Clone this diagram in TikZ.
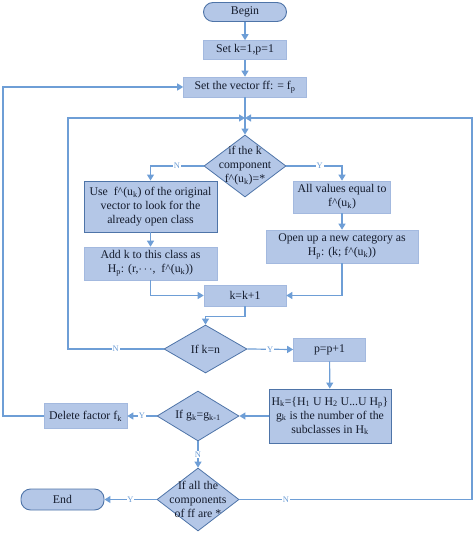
\documentclass[tikz,border=0pt]{standalone}
\usepackage{fontspec}
\setmainfont{Liberation Serif}
\usetikzlibrary{arrows.meta,shapes.geometric}
\definecolor{boxfill}{HTML}{B4C7E7}
\definecolor{boxedge}{HTML}{A3B9DF}
\definecolor{darkedge}{HTML}{4E74A8}
\definecolor{flow}{HTML}{6E9ED6}
\definecolor{ink}{HTML}{141B2C}
\tikzset{
	txt/.style={text=ink, align=center, font=\fontsize{11.8}{14}\selectfont},
	box/.style={txt, draw=boxedge, fill=boxfill, inner sep=0pt, line width=0.6pt},
	dbox/.style={box, draw=darkedge, line width=0.9pt},
	term/.style={box, draw=darkedge, rounded corners=9.5pt, line width=0.9pt},
	dec/.style={diamond, draw=darkedge, fill=boxfill, inner sep=0pt, line width=0.8pt},
	flowline/.style={draw=flow, line width=1.2pt},
	arr/.style={flowline, -{Triangle[length=6pt,width=7pt]}},
	yn/.style={fill=white, text=flow, inner sep=0.8pt, font=\fontsize{8.5}{9}\selectfont},
}
\begin{document}
\begin{tikzpicture}[x=1pt, y=-1pt]
	%%%%% START %%%%%
	\useasboundingbox (0,0) rectangle (474,537);
	
	\coordinate (jn) at (245,118);
	\coordinate (lx) at (68,0);
	\coordinate (rx) at (472,0);
	\coordinate (ox) at (3,0);
	
	\node[term, minimum width=83pt, minimum height=19pt] (begin) at (245,12) {Begin};
	\node[box, minimum width=83pt, minimum height=19pt] (set1) at (245,50) {Set k=1,p=1};
	\node[box, minimum width=123pt, minimum height=20pt] (vec) at (245,87) {Set the vector ff: = f\textsubscript{p}};
	
	\node[dec, minimum width=82pt, minimum height=62pt,
		label={[txt]center:{if the k\\component\\f\textasciicircum(u\textsubscript{k})=*}}] (d1) at (245,166) {};
	
	\node[dbox, minimum width=133pt, minimum height=51pt] (use) at (150.5,206.5)
		{Use\ \ f\textasciicircum(u\textsubscript{k}) of the original\\vector to look for the\\already open class};
	\node[box, minimum width=133pt, minimum height=33pt] (addk) at (150.5,263.5)
		{Add k to this class as\\H\textsubscript{p}: (r,$\cdots$,\ \ f\textasciicircum(u\textsubscript{k}))};
	\node[box, minimum width=97pt, minimum height=32pt] (allv) at (342,197)
		{All values equal to\\f\textasciicircum(u\textsubscript{k})};
	\node[box, minimum width=152pt, minimum height=33pt] (open) at (342,246.5)
		{Open up a new category as\\H\textsubscript{p}: (k; f\textasciicircum(u\textsubscript{k}))};
	\node[box, minimum width=82pt, minimum height=21pt] (kk) at (245,295.5) {k=k+1};
	
	\node[dec, minimum width=83pt, minimum height=48pt,
		label={[txt]center:{If k=n}}] (d2) at (205.5,349) {};
	\node[box, minimum width=72pt, minimum height=23pt] (pp) at (329.5,349.5) {p=p+1};
	\node[dbox, minimum width=122pt, minimum height=54pt] (hk) at (330,416)
		{H\textsubscript{k}=\{H\textsubscript{1} U H\textsubscript{2} U...U H\textsubscript{p}\}\\g\textsubscript{k} is the number of the\\subclasses in H\textsubscript{k}};
	
	\node[dec, minimum width=82pt, minimum height=50pt,
		label={[txt]center:{If g\textsubscript{k}=g\textsubscript{k-1}}}] (d3) at (198,416) {};
	\node[box, minimum width=83pt, minimum height=25pt] (del) at (85.5,416) {Delete factor f\textsubscript{k}};
	
	\node[dec, minimum width=82pt, minimum height=63pt,
		label={[txt]center:{If all the\\components\\of ff are *}}] (d4) at (198,499.5) {};
	\node[term, minimum width=83pt, minimum height=21pt] (end) at (62.5,499.5) {End};
	
	% main line
	\draw[arr] (begin) -- (set1);
	\draw[arr] (set1) -- (vec);
	\draw[arr] (vec) -- (d1);
	
	% first test
	\draw[arr] (d1.west) -| node[yn, pos=0.25] {N} (use.north);
	\draw[arr] (d1.east) -| node[yn, pos=0.3] {Y} (allv.north);
	\draw[arr] (use) -- (addk);
	\draw[arr] (allv) -- (open);
	\draw[arr] (addk.south) |- (kk.west);
	\draw[arr] (open.south) |- (kk.east);
	\draw[arr] (kk.south) -- ++(0,10) -| (d2.north);
	
	% second test
	\draw[arr] (d2.west) -- node[yn] {N} (d2.west -| lx) |- (jn);
	\draw[arr] (d2.east) -- node[yn] {Y} (pp.west);
	\draw[arr] (pp) -- (hk);
	\draw[arr] (hk.west) -- (d3.east);
	
	% third test
	\draw[arr] (d3.west) -- node[yn] {Y} (del.east);
	\draw[arr] (del.west) -- (del.west -| ox) |- (vec.west);
	\draw[arr] (d3.south) -- node[yn] {N} (d4.north);
	
	% last test
	\draw[arr] (d4.west) -- node[yn] {Y} (end.east);
	\draw[arr] (d4.east) -- node[yn, pos=0.2] {N} (d4.east -| rx) |- (jn);
	
	%%%%% END %%%%%
\end{tikzpicture}
\end{document}
